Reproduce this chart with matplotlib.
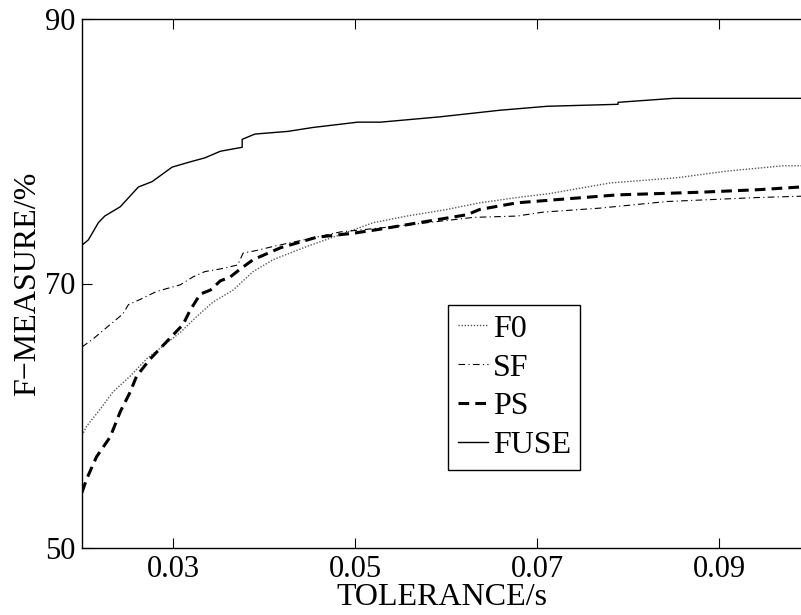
import numpy as np
import matplotlib
matplotlib.use("Agg")
import matplotlib.pyplot as plt
from matplotlib import font_manager

# Times-like font: Liberation Serif if it is there, else the bundled STIX
names = {f.name for f in font_manager.fontManager.ttflist}
serif = [n for n in ['Liberation Serif', 'Times New Roman', 'STIXGeneral'] if n in names]
plt.rcParams['font.family'] = serif + ['DejaVu Serif']

# Values (tolerance in seconds, F-measure in %)
fuse_x = [0.0200, 0.0207, 0.0218, 0.0225, 0.0242, 0.0262, 0.0277, 0.0299, 0.0319, 0.0335,
          0.0352, 0.0376, 0.0376, 0.0390, 0.0426, 0.0454, 0.0503, 0.0528, 0.0593, 0.0659,
          0.0711, 0.0789, 0.0789, 0.0850, 0.0990]
fuse_y = [72.9, 73.3, 74.6, 75.1, 75.8, 77.3, 77.7, 78.8, 79.2, 79.5,
          80.0, 80.3, 80.9, 81.3, 81.5, 81.8, 82.2, 82.2, 82.6, 83.1,
          83.4, 83.55, 83.7, 84.0, 84.0]

sf_x = [0.0200, 0.0212, 0.0231, 0.0245, 0.0251, 0.0264, 0.0282, 0.0308, 0.0322, 0.0335,
        0.0352, 0.0371, 0.0377, 0.0392, 0.0410, 0.0484, 0.0542, 0.0630, 0.0678, 0.0707,
        0.0769, 0.0843, 0.0942, 0.0990]
sf_y = [65.2, 65.8, 66.9, 67.7, 68.4, 68.8, 69.4, 69.9, 70.5, 70.9,
        71.1, 71.4, 72.3, 72.5, 72.8, 73.9, 74.3, 75.0, 75.1, 75.4,
        75.7, 76.2, 76.5, 76.6]

ps_x = [0.0200, 0.0205, 0.0216, 0.0231, 0.0242, 0.0253, 0.0260, 0.0275, 0.0293, 0.0311,
        0.0319, 0.0330, 0.0341, 0.0352, 0.0363, 0.0374, 0.0388, 0.0418, 0.0458, 0.0498,
        0.0527, 0.0579, 0.0623, 0.0637, 0.0678, 0.0714, 0.0788, 0.0879, 0.0945, 0.0990]
ps_y = [54.2, 55.2, 56.9, 58.4, 60.3, 61.8, 63.0, 64.3, 65.6, 66.9,
        68.0, 69.2, 69.5, 70.2, 70.5, 71.1, 71.8, 72.7, 73.5, 73.8,
        74.1, 74.7, 75.2, 75.6, 76.1, 76.3, 76.7, 76.9, 77.1, 77.3]

f0_x = [0.0200, 0.0205, 0.0220, 0.0234, 0.0253, 0.0271, 0.0293, 0.0308, 0.0326, 0.0344,
        0.0366, 0.0388, 0.0410, 0.0447, 0.0484, 0.0520, 0.0557, 0.0601, 0.0637, 0.0678,
        0.0714, 0.0780, 0.0854, 0.0909, 0.0970, 0.0990]
f0_y = [58.5, 59.2, 60.5, 61.8, 63.0, 64.3, 65.5, 66.3, 67.5, 68.6,
        69.5, 70.9, 71.8, 72.8, 73.7, 74.6, 75.1, 75.6, 76.1, 76.5,
        76.8, 77.6, 78.0, 78.5, 78.9, 78.9]

x_ticks = [0.03, 0.05, 0.07, 0.09]
x_tick_labels = ['0.03', '0.05', '0.07', '0.09']
y_ticks = [50, 70, 90]

fig = plt.figure(figsize=(8.01, 6.15), dpi=100)
ax = fig.add_axes([82 / 801, 67 / 615, 1 - 82 / 801, 529 / 615])

ax.plot(f0_x, f0_y, color='0.35', lw=1.0, linestyle=(0, (1, 1.2)), label='F0')
ax.plot(sf_x, sf_y, color='black', lw=0.8, linestyle=(0, (6, 3, 1, 3)), label='SF')
ax.plot(ps_x, ps_y, color='black', lw=2.2, linestyle=(0, (3.5, 2)), label='PS')
ax.plot(fuse_x, fuse_y, color='black', lw=1.0, label='FUSE')

ax.set_xlim(0.02, 0.099)
ax.set_ylim(50, 90)
ax.set_xticks(x_ticks)
ax.set_xticklabels(x_tick_labels)
ax.set_yticks(y_ticks)
ax.tick_params(direction='in', length=7, width=0.8, labelsize=22, top=True,
               right=False, pad=5)
ax.spines['right'].set_visible(False)
for s in ['left', 'bottom', 'top']:
    ax.spines[s].set_linewidth(1.0)

ax.set_xlabel('TOLERANCE/s', fontsize=23, labelpad=-1)
ax.set_ylabel('F\u2212MEASURE/%', fontsize=23, labelpad=2)

leg = ax.legend(loc='lower left', bbox_to_anchor=((448 - 82) / 719, (548 - 470) / 529),
                borderaxespad=0, fontsize=23, handlelength=0.95, handletextpad=0.15,
                labelspacing=0.3, borderpad=0.3, fancybox=False, framealpha=1,
                edgecolor='black')
leg.get_frame().set_linewidth(1.0)

fig.savefig('out.png', dpi=100)
